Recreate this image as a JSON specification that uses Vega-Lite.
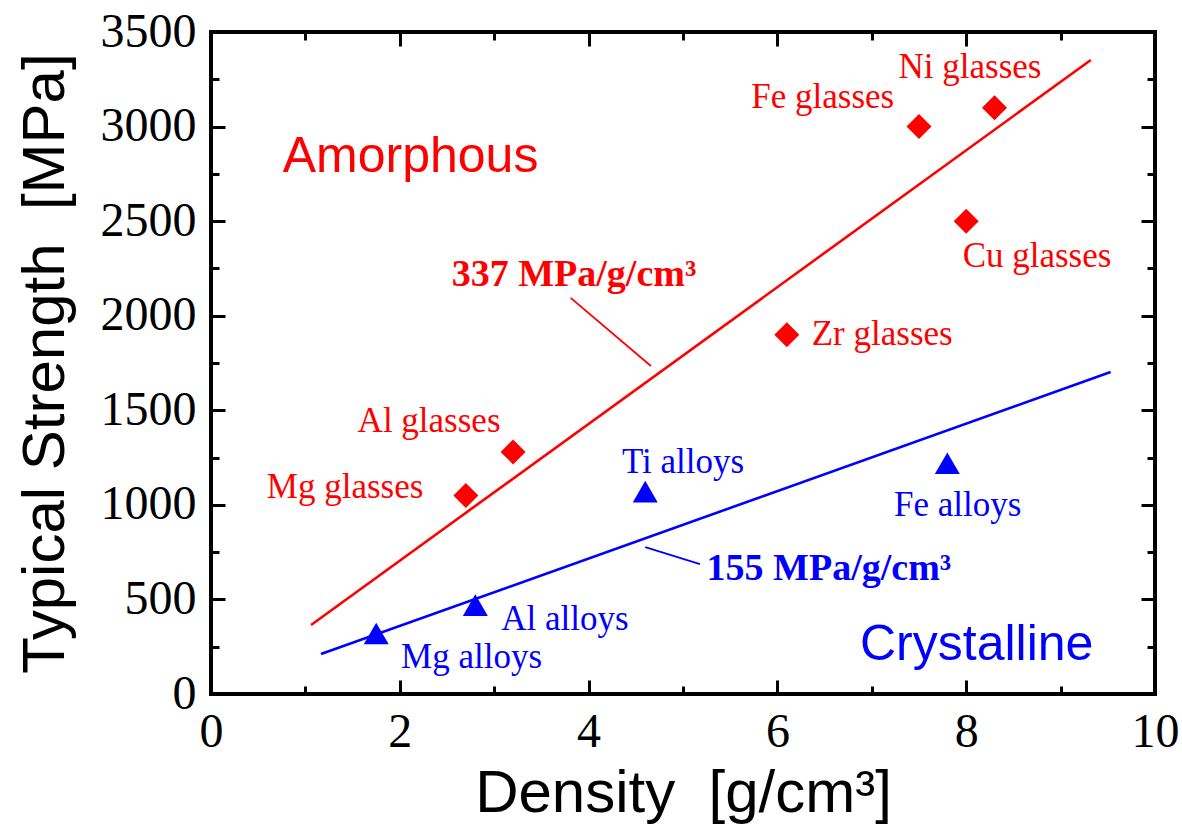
{
  "$schema": "https://vega.github.io/schema/vega-lite/v6.json",
  "width": 944,
  "height": 662,
  "autosize": {"type": "none"},
  "padding": {"left": 211, "top": 32, "right": 27, "bottom": 131},
  "background": "white",
  "config": {
    "view": {"stroke": "black", "strokeWidth": 4},
    "axis": {"grid": false, "domain": false, "tickColor": "black", "tickWidth": 3}
  },
  "resolve": {"axis": {"x": "independent", "y": "independent"}},
  "layer": [
    {
      "data": {"values": [{"density": 1.06, "strength": 365}, {"density": 9.32, "strength": 3352}]},
      "mark": {"type": "line", "color": "#ff0000", "strokeWidth": 2.6},
      "encoding": {
        "x": {"field": "density", "type": "quantitative", "scale": {"domain": [0, 10], "nice": false},
          "axis": {"orient": "bottom", "values": [0, 2, 4, 6, 8, 10], "format": "d", "ticks": false, "labelFont": "Liberation Serif", "labelFontSize": 48, "labelColor": "black", "labelPadding": 14, "labelFlush": false, "labelOverlap": false,
            "title": "Density\u00a0\u00a0[g/cm³]", "titleFont": "Liberation Sans", "titleFontSize": 60, "titleFontWeight": "normal", "titleColor": "black", "titlePadding": 8}},
        "y": {"field": "strength", "type": "quantitative", "scale": {"domain": [0, 3500], "nice": false},
          "axis": {"orient": "left", "values": [0, 500, 1000, 1500, 2000, 2500, 3000, 3500], "format": "d", "ticks": false, "labelFont": "Liberation Serif", "labelFontSize": 48, "labelColor": "black", "labelPadding": 15, "labelFlush": false, "labelOverlap": false,
            "title": "Typical Strength\u00a0\u00a0[MPa]", "titleFont": "Liberation Sans", "titleFontSize": 60, "titleFontWeight": "normal", "titleColor": "black", "titlePadding": 24}}
      }
    },
    {
      "data": {"values": [{"density": 1.165, "strength": 211}, {"density": 9.53, "strength": 1702}]},
      "mark": {"type": "line", "color": "#0000ff", "strokeWidth": 2.6},
      "encoding": {
        "x": {"field": "density", "type": "quantitative", "scale": {"domain": [0, 10], "nice": false},
          "axis": {"orient": "bottom", "values": [0, 2, 4, 6, 8, 10], "labels": false, "tickSize": -14, "title": null}},
        "y": {"field": "strength", "type": "quantitative", "scale": {"domain": [0, 3500], "nice": false},
          "axis": {"orient": "left", "values": [0, 500, 1000, 1500, 2000, 2500, 3000, 3500], "labels": false, "tickSize": -14, "title": null}}
      }
    },
    {
      "data": {"values": [{"density": 3.81, "strength": 2094}, {"density": 4.66, "strength": 1734}]},
      "mark": {"type": "line", "color": "#ff0000", "strokeWidth": 1.8},
      "encoding": {
        "x": {"field": "density", "type": "quantitative", "scale": {"domain": [0, 10], "nice": false},
          "axis": {"orient": "bottom", "values": [1, 3, 5, 7, 9], "labels": false, "tickSize": -8, "title": null}},
        "y": {"field": "strength", "type": "quantitative", "scale": {"domain": [0, 3500], "nice": false},
          "axis": {"orient": "left", "values": [250, 750, 1250, 1750, 2250, 2750, 3250], "labels": false, "tickSize": -8, "title": null}}
      }
    },
    {
      "data": {"values": [{"density": 4.6, "strength": 777}, {"density": 5.18, "strength": 687}]},
      "mark": {"type": "line", "color": "#0000ff", "strokeWidth": 1.8},
      "encoding": {
        "x": {"field": "density", "type": "quantitative", "scale": {"domain": [0, 10], "nice": false},
          "axis": {"orient": "top", "values": [0, 2, 4, 6, 8, 10], "labels": false, "tickSize": -14, "title": null}},
        "y": {"field": "strength", "type": "quantitative", "scale": {"domain": [0, 3500], "nice": false},
          "axis": {"orient": "right", "values": [0, 500, 1000, 1500, 2000, 2500, 3000, 3500], "labels": false, "tickSize": -14, "title": null}}
      }
    },
    {
      "data": {"values": [
        {"material": "Mg glasses", "density": 2.7, "strength": 1050},
        {"material": "Al glasses", "density": 3.2, "strength": 1280},
        {"material": "Zr glasses", "density": 6.1, "strength": 1900},
        {"material": "Fe glasses", "density": 7.5, "strength": 3000},
        {"material": "Cu glasses", "density": 8.0, "strength": 2500},
        {"material": "Ni glasses", "density": 8.3, "strength": 3100}
      ]},
      "mark": {"type": "point", "shape": "diamond", "filled": true, "color": "#ff0000", "size": 625, "opacity": 1},
      "encoding": {
        "x": {"field": "density", "type": "quantitative", "scale": {"domain": [0, 10], "nice": false},
          "axis": {"orient": "top", "values": [1, 3, 5, 7, 9], "labels": false, "tickSize": -8, "title": null}},
        "y": {"field": "strength", "type": "quantitative", "scale": {"domain": [0, 3500], "nice": false},
          "axis": {"orient": "right", "values": [250, 750, 1250, 1750, 2250, 2750, 3250], "labels": false, "tickSize": -8, "title": null}}
      }
    },
    {
      "data": {"values": [
        {"material": "Mg alloys", "density": 1.75, "strength": 320},
        {"material": "Al alloys", "density": 2.8, "strength": 470},
        {"material": "Ti alloys", "density": 4.6, "strength": 1070},
        {"material": "Fe alloys", "density": 7.8, "strength": 1220}
      ]},
      "mark": {"type": "point", "shape": "triangle-up", "filled": true, "color": "#0000ff", "size": 625, "opacity": 1},
      "encoding": {
        "x": {"field": "density", "type": "quantitative", "scale": {"domain": [0, 10], "nice": false}, "axis": null},
        "y": {"field": "strength", "type": "quantitative", "scale": {"domain": [0, 3500], "nice": false}, "axis": null}
      }
    },
    {
      "data": {"values": [
        {"label": "Ni glasses", "phase": "Amorphous", "lx": 8.04, "ly": 3257},
        {"label": "Fe glasses", "phase": "Amorphous", "lx": 6.48, "ly": 3098},
        {"label": "Cu glasses", "phase": "Amorphous", "lx": 8.75, "ly": 2258},
        {"label": "Zr glasses", "phase": "Amorphous", "lx": 7.11, "ly": 1845},
        {"label": "Al glasses", "phase": "Amorphous", "lx": 2.31, "ly": 1385},
        {"label": "Mg glasses", "phase": "Amorphous", "lx": 1.42, "ly": 1036},
        {"label": "Ti alloys", "phase": "Crystalline", "lx": 5.0, "ly": 1168},
        {"label": "Fe alloys", "phase": "Crystalline", "lx": 7.91, "ly": 941},
        {"label": "Al alloys", "phase": "Crystalline", "lx": 3.75, "ly": 338},
        {"label": "Mg alloys", "phase": "Crystalline", "lx": 2.76, "ly": 137}
      ]},
      "mark": {"type": "text", "font": "Liberation Serif", "fontSize": 35, "align": "center", "baseline": "alphabetic"},
      "encoding": {
        "x": {"field": "lx", "type": "quantitative", "scale": {"domain": [0, 10], "nice": false}, "axis": null},
        "y": {"field": "ly", "type": "quantitative", "scale": {"domain": [0, 3500], "nice": false}, "axis": null},
        "text": {"field": "label"},
        "color": {"field": "phase", "type": "nominal", "scale": {"domain": ["Amorphous", "Crystalline"], "range": ["#ff0000", "#0000ff"]}, "legend": null}
      }
    },
    {
      "data": {"values": [
        {"label": "337 MPa/g/cm³", "phase": "Amorphous", "lx": 2.55, "ly": 2157},
        {"label": "155 MPa/g/cm³", "phase": "Crystalline", "lx": 5.25, "ly": 603}
      ]},
      "mark": {"type": "text", "font": "Liberation Serif", "fontSize": 38, "fontWeight": "bold", "align": "left", "baseline": "alphabetic"},
      "encoding": {
        "x": {"field": "lx", "type": "quantitative", "scale": {"domain": [0, 10], "nice": false}, "axis": null},
        "y": {"field": "ly", "type": "quantitative", "scale": {"domain": [0, 3500], "nice": false}, "axis": null},
        "text": {"field": "label"},
        "color": {"field": "phase", "type": "nominal", "scale": {"domain": ["Amorphous", "Crystalline"], "range": ["#ff0000", "#0000ff"]}, "legend": null}
      }
    },
    {
      "data": {"values": [
        {"label": "Amorphous", "phase": "Amorphous", "lx": 0.76, "ly": 2760},
        {"label": "Crystalline", "phase": "Crystalline", "lx": 6.875, "ly": 180}
      ]},
      "mark": {"type": "text", "font": "Liberation Sans", "fontSize": 50, "align": "left", "baseline": "alphabetic"},
      "encoding": {
        "x": {"field": "lx", "type": "quantitative", "scale": {"domain": [0, 10], "nice": false}, "axis": null},
        "y": {"field": "ly", "type": "quantitative", "scale": {"domain": [0, 3500], "nice": false}, "axis": null},
        "text": {"field": "label"},
        "color": {"field": "phase", "type": "nominal", "scale": {"domain": ["Amorphous", "Crystalline"], "range": ["#ff0000", "#0000ff"]}, "legend": null}
      }
    }
  ]
}
